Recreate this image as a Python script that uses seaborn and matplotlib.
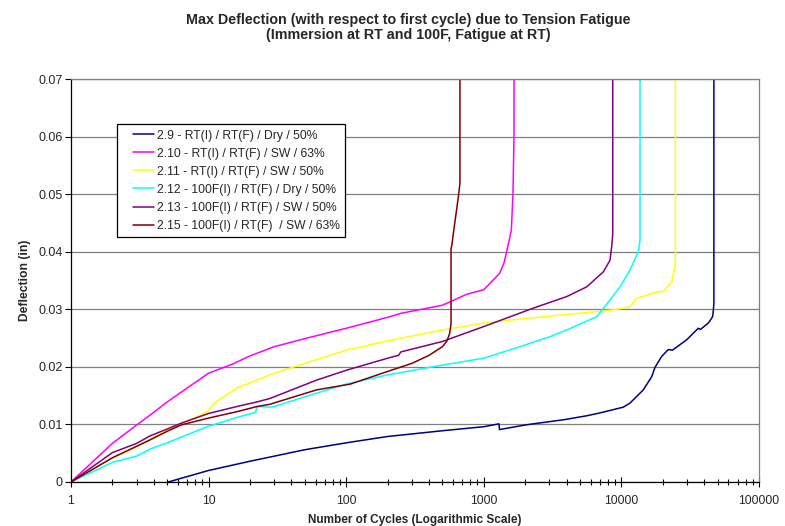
import numpy as np
import pandas as pd
import matplotlib
matplotlib.use("Agg")
import matplotlib.pyplot as plt
from matplotlib.lines import Line2D
from matplotlib.legend_handler import HandlerBase
from matplotlib.ticker import FixedLocator, FuncFormatter, NullFormatter
import seaborn as sns

# Specimen labels and line colours
labels = [
    "2.9 - RT(I) / RT(F) / Dry / 50%",
    "2.10 - RT(I) / RT(F) / SW / 63%",
    "2.11 - RT(I) / RT(F) / SW / 50%",
    "2.12 - 100F(I) / RT(F) / Dry / 50%",
    "2.13 - 100F(I) / RT(F) / SW / 50%",
    "2.15 - 100F(I) / RT(F)  / SW / 63%",
]
colors = ["#000080", "#FF00FF", "#FFFF00", "#00FFFF", "#800080", "#800000"]

# 2.9 - RT(I) / RT(F) / Dry / 50%
cyc_29 = [5.1, 10, 20, 50, 100, 200, 500, 1000, 1290, 1300, 2000, 2290, 3780,
          5600, 6990, 10330, 11540, 14430, 16600, 17540, 19600, 21900, 23500,
          29800, 36200, 37500, 42800, 46000, 46600, 47000, 47000]
def_29 = [0, 0.0020, 0.0036, 0.0056, 0.0068, 0.0079, 0.0089, 0.0096, 0.0101,
          0.0091, 0.0099, 0.0101, 0.0108, 0.0115, 0.0120, 0.0130, 0.0137,
          0.0160, 0.0183, 0.0199, 0.0218, 0.0230, 0.0229, 0.0247, 0.0267,
          0.0265, 0.0276, 0.0287, 0.0299, 0.0310, 0.0750]

# 2.10 - RT(I) / RT(F) / SW / 63%
cyc_210 = [1, 2, 3, 3.75, 5, 10, 15, 20, 30, 50, 100, 200, 250, 500, 750,
           1000, 1300, 1400, 1466, 1585, 1630, 1657, 1660]
def_210 = [0, 0.0067, 0.0099, 0.0116, 0.0139, 0.0189, 0.0205, 0.0219, 0.0235,
           0.0249, 0.0267, 0.0286, 0.0293, 0.0307, 0.0326, 0.0334, 0.0362,
           0.0380, 0.0400, 0.0437, 0.0501, 0.0600, 0.0750]

# 2.11 - RT(I) / RT(F) / SW / 50%
cyc_211 = [1, 2, 3, 3.75, 5, 6.3, 9, 10, 11, 16, 22.4, 30, 50, 100, 200, 500,
           1000, 2000, 3000, 6610, 8730, 11540, 12900, 18050, 20170, 23200,
           24540, 24700, 24700]
def_211 = [0, 0.0042, 0.0061, 0.0074, 0.0090, 0.0101, 0.0118, 0.0124, 0.0137,
           0.0163, 0.0177, 0.0189, 0.0206, 0.0229, 0.0245, 0.0264, 0.0276,
           0.0284, 0.0288, 0.0296, 0.0299, 0.0304, 0.0319, 0.0330, 0.0331,
           0.0348, 0.0374, 0.0397, 0.0750]

# 2.12 - 100F(I) / RT(F) / Dry / 50%
cyc_212 = [1, 2, 3, 3.75, 5, 10, 11.1, 16, 22, 22.4, 28, 30, 50, 100, 200, 500,
           888, 1000, 2000, 2290, 3000, 4000, 6610, 8260, 9770, 11540, 13270,
           13650, 13650]
def_212 = [0, 0.0034, 0.0045, 0.0057, 0.0068, 0.0097, 0.0100, 0.0112, 0.0121,
           0.0131, 0.0130, 0.0131, 0.0148, 0.0170, 0.0186, 0.0203, 0.0213,
           0.0215, 0.0238, 0.0243, 0.0252, 0.0264, 0.0287, 0.0316, 0.0339,
           0.0368, 0.0400, 0.0420, 0.0750]

# 2.13 - 100F(I) / RT(F) / SW / 50%
cyc_213 = [1, 2, 3, 3.75, 5, 6.3, 10, 16, 22.4, 27.9, 61, 100, 200, 240, 250,
           500, 1000, 2290, 4000, 5600, 7390, 8260, 8500, 8650, 8650]
def_213 = [0, 0.0051, 0.0067, 0.0080, 0.0092, 0.0102, 0.0119, 0.0131, 0.0139,
           0.0145, 0.0177, 0.0194, 0.0215, 0.0220, 0.0226, 0.0244, 0.0270,
           0.0302, 0.0322, 0.0339, 0.0365, 0.0385, 0.0409, 0.0430, 0.0750]

# 2.15 - 100F(I) / RT(F) / SW / 63%
cyc_215 = [1, 2, 3.75, 5, 6.3, 10, 16, 22.4, 27.9, 61, 107, 200, 300, 400, 500,
           540, 565, 578, 578, 585, 601, 653, 671, 671]
def_215 = [0, 0.0042, 0.0073, 0.0088, 0.0099, 0.0111, 0.0122, 0.0131, 0.0135,
           0.0160, 0.0170, 0.0192, 0.0206, 0.0220, 0.0235, 0.0245, 0.0258,
           0.0275, 0.0406, 0.0410, 0.0432, 0.0495, 0.0519, 0.0750]

series = [(cyc_29, def_29), (cyc_210, def_210), (cyc_211, def_211),
          (cyc_212, def_212), (cyc_213, def_213), (cyc_215, def_215)]

frames = []
for lab, (c, d) in zip(labels, series):
    frames.append(pd.DataFrame({"cycles": c, "deflection": d, "specimen": lab}))
df = pd.concat(frames, ignore_index=True)

sns.set_style("white")
plt.rcParams["font.family"] = ["Liberation Sans", "DejaVu Sans"]

fig = plt.figure(figsize=(7.85, 5.26), dpi=100)
ax = fig.add_axes([0.0904, 0.0837, 0.8765, 0.7661])

sns.lineplot(data=df, x="cycles", y="deflection", hue="specimen",
             hue_order=labels, palette=dict(zip(labels, colors)),
             estimator=None, sort=False, units="specimen", lw=1.1, ax=ax,
             legend=False)

ax.set_xscale("log")
ax.set_xlim(1, 100000)
ax.set_ylim(0, 0.07)

ax.xaxis.set_major_locator(FixedLocator([1, 10, 100, 1000, 10000, 100000]))
ax.xaxis.set_major_formatter(FuncFormatter(lambda v, p: f"{v:g}"))
minors = [m * 10 ** e for e in range(0, 5) for m in range(2, 10)]
ax.xaxis.set_minor_locator(FixedLocator(minors))
ax.xaxis.set_minor_formatter(NullFormatter())

yt = [0, 0.01, 0.02, 0.03, 0.04, 0.05, 0.06, 0.07]
ax.yaxis.set_major_locator(FixedLocator(yt))
ax.yaxis.set_major_formatter(FuncFormatter(lambda v, p: "0" if v == 0 else f"{v:.2f}"))

ax.grid(True, axis="y", color="#808080", lw=0.9)
ax.grid(False, axis="x")
ax.set_axisbelow(True)

for side in ["left", "bottom"]:
    ax.spines[side].set_color("black")
    ax.spines[side].set_linewidth(0.9)
for side in ["top", "right"]:
    ax.spines[side].set_color("#808080")
    ax.spines[side].set_linewidth(0.9)

ax.tick_params(axis="x", which="major", direction="inout", length=7, width=0.8,
               color="black", labelsize=8.8, pad=6, bottom=True)
ax.tick_params(axis="x", which="minor", direction="inout", length=4, width=0.8,
               color="black", bottom=True)
ax.tick_params(axis="y", which="major", direction="out", length=4, width=0.8,
               color="black", labelsize=9, pad=2, left=True)

ax.set_xlabel("Number of Cycles (Logarithmic Scale)", fontsize=8.5,
              fontweight="bold", labelpad=5)
ax.set_ylabel("Deflection (in)", fontsize=8.7, fontweight="bold", labelpad=5)

fig.text(0.52, 0.976, "Max Deflection (with respect to first cycle) due to Tension Fatigue\n"
         "(Immersion at RT and 100F, Fatigue at RT)", ha="center", va="top",
         fontsize=10.3, fontweight="bold", linespacing=1.15)


class InsetLineHandler(HandlerBase):
    """Legend key drawn as a short line in the right part of the key box."""

    def create_artists(self, legend, orig_handle, xdescent, ydescent, width,
                       height, fontsize, trans):
        y = height / 2 - ydescent
        x0 = -xdescent + 0.34 * width
        x1 = -xdescent + width
        line = Line2D([x0, x1], [y, y], color=orig_handle.get_color(),
                      lw=orig_handle.get_linewidth(), transform=trans)
        return [line]


handles = [Line2D([], [], color=c, lw=1.1) for c in colors]
leg = ax.legend(handles, labels, loc="upper left", bbox_to_anchor=(0.0669, 0.888),
                fontsize=8.7, frameon=True, fancybox=False, edgecolor="black",
                framealpha=1, handlelength=2.6, handletextpad=0.25,
                labelspacing=0.5, borderpad=0.45, borderaxespad=0,
                handler_map={Line2D: InsetLineHandler()})
leg.get_frame().set_linewidth(0.9)

fig.savefig("out.png", dpi=100)
